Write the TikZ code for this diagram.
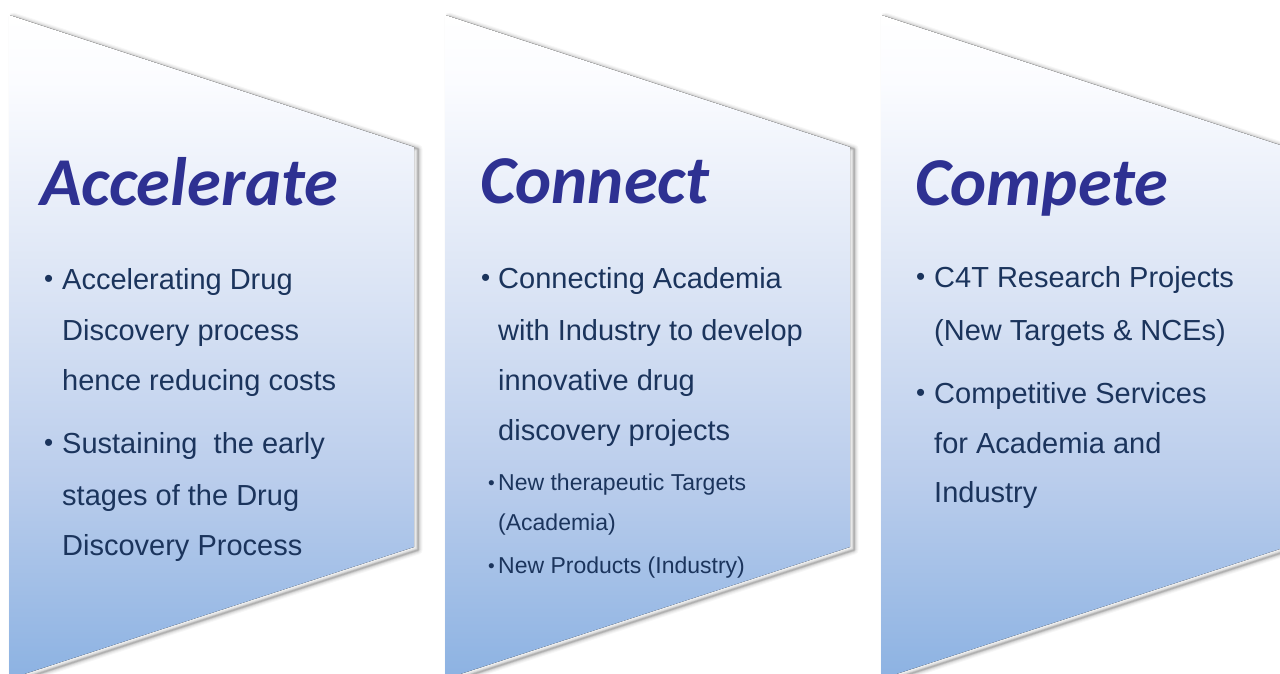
\documentclass[tikz,border=0pt]{standalone}
\usepackage{fontspec}
\setmainfont{Liberation Sans}
\newfontfamily\titlefont{Carlito}
\definecolor{titleblue}{RGB}{46,49,146}
\definecolor{bodyblue}{RGB}{27,52,92}
\definecolor{panelbot}{RGB}{140,178,226}
\definecolor{panelmidA}{RGB}{186,205,236}
\definecolor{panelmidB}{RGB}{220,229,245}
\definecolor{paneltop}{RGB}{251,252,255}
\pgfdeclareverticalshading{panelshade}{100bp}{color(0bp)=(panelbot); color(25bp)=(panelbot); color(40bp)=(panelmidA); color(55bp)=(panelmidB); color(70bp)=(paneltop); color(75bp)=(white); color(100bp)=(white)}
\tikzset{
  titletext/.style={anchor=base west, inner sep=0pt, font=\titlefont\bfseries\itshape\fontsize{68.5}{68.5}\selectfont, text=titleblue},
  bodytext/.style={anchor=base west, inner sep=0pt, font=\fontsize{29}{29}\selectfont, text=bodyblue},
  smalltext/.style={anchor=base west, inner sep=0pt, font=\fontsize{23}{23}\selectfont, text=bodyblue},
  bulletmark/.style={anchor=base west, inner sep=0pt, font=\fontsize{26}{26}\selectfont, text=bodyblue},
  smallbullet/.style={anchor=base west, inner sep=0pt, font=\fontsize{19}{19}\selectfont, text=bodyblue},
  panel/.style={shading=panelshade},
}
\begin{document}
\begin{tikzpicture}[x=1pt,y=-1pt]
\useasboundingbox (0,0) rectangle (1280,673);
\clip (0,0) rectangle (1280,673);
\fill[white] (0,0) rectangle (1280,673);
\foreach \L in {9,445,881}{
  \foreach \w/\o in {9/0.03,7/0.04,5/0.06,3/0.09,1.5/0.12}{
    \draw[black, opacity=\o, line width=\w pt, line join=round]
      (\L+4,17) -- (\L+409,149) -- (\L+409,550) -- (\L+4,682) -- cycle;
  }
  \fill[panel] (\L,15) -- (\L+405,147) -- (\L+405,547) -- (\L,679) -- cycle;
}
% Panel 1
\node[titletext] (t1) at (40,205) {Accelerate};
\node[bulletmark] (b1a) at (44,287) {\textbullet};
\node[bodytext] (p1l1) at (62,289) {Accelerating Drug};
\node[bodytext] (p1l2) at (62,340) {Discovery process};
\node[bodytext] (p1l3) at (62,390) {hence reducing costs};
\node[bulletmark] (b1b) at (44,451) {\textbullet};
\node[bodytext] (p1l4) at (62,453) {Sustaining\ \ the early};
\node[bodytext] (p1l5) at (62,505) {stages of the Drug};
\node[bodytext] (p1l6) at (62,555) {Discovery Process};
% Panel 2
\node[titletext] (t2) at (480,203) {Connect};
\node[bulletmark] (b2a) at (481,286) {\textbullet};
\node[bodytext] (p2l1) at (498,288) {Connecting Academia};
\node[bodytext] (p2l2) at (498,340) {with Industry to develop};
\node[bodytext] (p2l3) at (498,390) {innovative drug};
\node[bodytext] (p2l4) at (498,440) {discovery projects};
\node[smallbullet] (b2b) at (488,489) {\textbullet};
\node[smalltext] (p2l5) at (498,490) {New therapeutic\ Targets};
\node[smalltext] (p2l6) at (498,530) {(Academia)};
\node[smallbullet] (b2c) at (488,572) {\textbullet};
\node[smalltext] (p2l7) at (498,573) {New Products (Industry)};
% Panel 3
\node[titletext] (t3) at (915,205) {Compete};
\node[bulletmark] (b3a) at (916,285) {\textbullet};
\node[bodytext] (p3l1) at (934,287) {C4T Research Projects};
\node[bodytext] (p3l2) at (934,340) {(New Targets \& NCEs)};
\node[bulletmark] (b3b) at (916,401) {\textbullet};
\node[bodytext] (p3l3) at (934,403) {Competitive Services};
\node[bodytext] (p3l4) at (934,453) {for Academia and};
\node[bodytext] (p3l5) at (934,502) {Industry};
\end{tikzpicture}
\end{document}
